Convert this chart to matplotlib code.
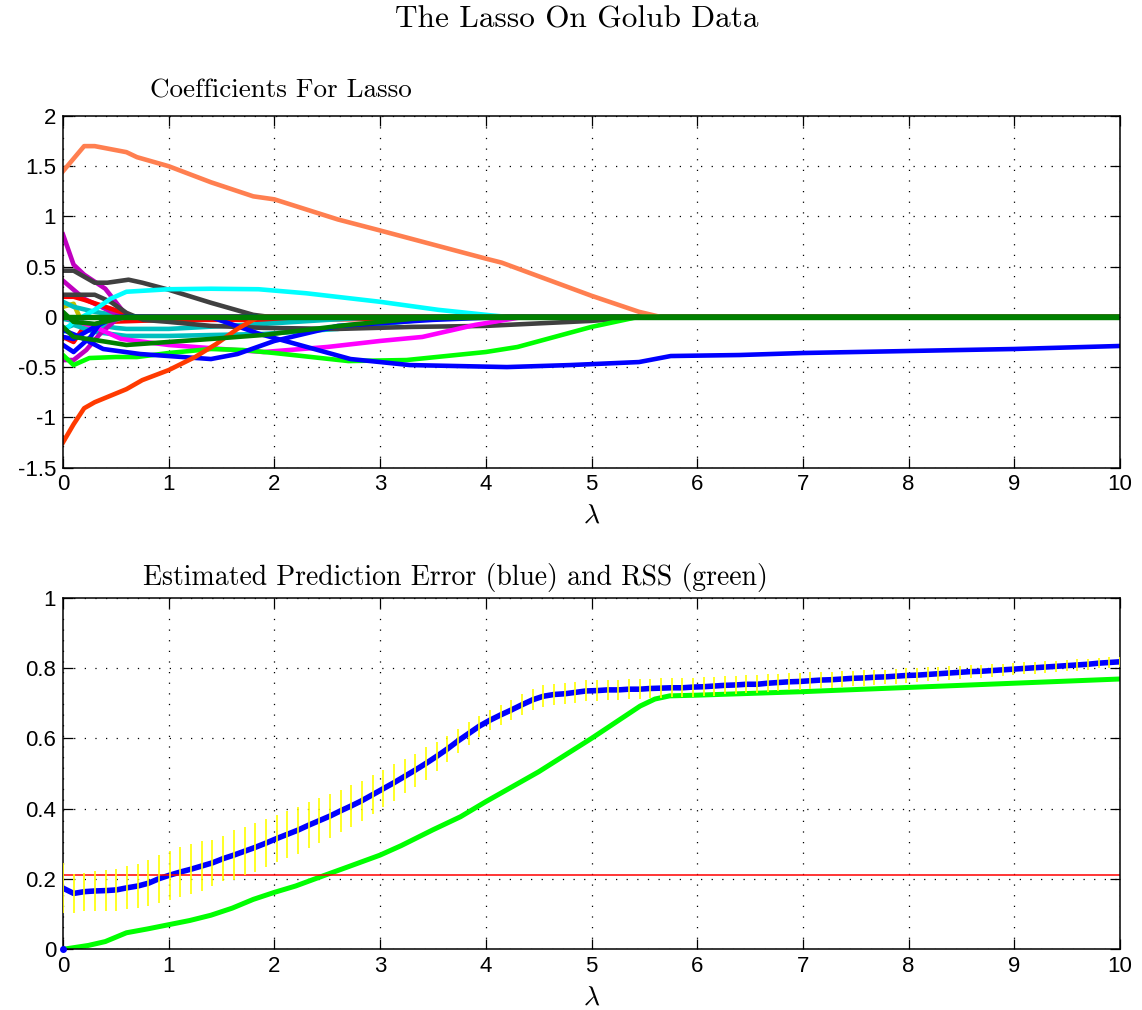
import numpy as np
import matplotlib
matplotlib.use("Agg")
import matplotlib.pyplot as plt

plt.rcParams['font.family'] = ['Liberation Sans', 'DejaVu Sans']
plt.rcParams['mathtext.fontset'] = 'cm'
plt.rcParams['axes.unicode_minus'] = False

# ---------------- data: lasso coefficient paths (lambda, coefficient) ----------------
path_coral_lam = [0, 0.2, 0.3, 0.5, 0.6, 0.7, 1.0, 1.4, 1.8, 2.0, 2.6, 3.0, 4.0, 4.15, 5.0, 5.45, 5.65, 10]
path_coral_val = [1.45, 1.70, 1.70, 1.66, 1.64, 1.59, 1.50, 1.34, 1.20, 1.17, 0.97, 0.86, 0.58, 0.54, 0.21, 0.05, 0.0, 0]

path_orange_lam = [0, 0.1, 0.2, 0.3, 0.6, 0.75, 1.0, 1.25, 1.45, 1.65, 1.85, 10]
path_orange_val = [-1.25, -1.07, -0.91, -0.85, -0.72, -0.63, -0.53, -0.40, -0.27, -0.12, 0.0, 0]

path_cyan_lam = [0, 0.1, 0.3, 0.45, 0.6, 1.0, 1.4, 1.85, 2.3, 3.0, 3.55, 4.05, 4.2, 10]
path_cyan_val = [-0.15, -0.05, 0.07, 0.18, 0.25, 0.275, 0.28, 0.275, 0.235, 0.15, 0.07, 0.015, 0.0, 0]

path_gray1_lam = [0, 0.1, 0.3, 0.42, 0.62, 0.75, 1.0, 1.4, 1.8, 1.95, 10]
path_gray1_val = [0.46, 0.46, 0.34, 0.34, 0.37, 0.34, 0.27, 0.14, 0.02, 0.0, 0]

path_gray2_lam = [0, 0.3, 0.45, 0.6, 0.76, 1.0, 1.4, 1.9, 2.6, 3.3, 4.0, 5.0, 5.5, 10]
path_gray2_val = [0.22, 0.22, 0.15, 0.04, -0.03, -0.05, -0.09, -0.11, -0.12, -0.10, -0.09, -0.04, 0.0, 0]

path_purple1_lam = [0, 0.1, 0.2, 0.4, 0.55, 0.62, 10]
path_purple1_val = [0.82, 0.52, 0.42, 0.28, 0.08, 0.0, 0]

path_purple2_lam = [0, 0.2, 0.4, 0.56, 10]
path_purple2_val = [0.36, 0.18, 0.08, 0.0, 0]

path_purple3_lam = [0, 0.1, 0.22, 0.35, 0.5, 0.6, 10]
path_purple3_val = [-0.43, -0.43, -0.33, -0.17, -0.03, 0.0, 0]

path_magenta_lam = [0, 0.3, 0.55, 1.0, 1.5, 1.9, 2.5, 3.0, 3.4, 3.9, 4.3, 4.4, 10]
path_magenta_val = [0.0, -0.10, -0.22, -0.28, -0.32, -0.35, -0.30, -0.24, -0.20, -0.08, -0.01, 0.0, 0]

path_green_lam = [0, 0.1, 0.25, 0.5, 0.7, 1.0, 1.4, 1.7, 2.0, 2.7, 3.25, 4.0, 4.3, 5.0, 5.4, 5.5, 10]
path_green_val = [-0.38, -0.48, -0.41, -0.40, -0.40, -0.36, -0.32, -0.33, -0.36, -0.44, -0.43, -0.35, -0.30, -0.10, -0.01, 0.0, 0]

path_blue1_lam = [0, 0.1, 0.26, 0.38, 0.6, 1.42, 1.86, 2.72, 3.28, 4.2, 4.8, 5.45, 5.75, 6.4, 7.0, 9.0, 10]
path_blue1_val = [-0.28, -0.35, -0.20, -0.02, 0.0, -0.01, -0.17, -0.42, -0.48, -0.50, -0.48, -0.45, -0.39, -0.38, -0.36, -0.32, -0.29]

path_blue2_lam = [0, 0.16, 0.38, 0.73, 1.4, 1.65, 2.0, 2.6, 3.5, 4.2, 10]
path_blue2_val = [-0.13, -0.20, -0.32, -0.37, -0.42, -0.37, -0.24, -0.09, -0.03, 0.0, 0]

path_blue3_lam = [0, 0.1, 0.3, 0.5, 10]
path_blue3_val = [-0.20, -0.22, -0.10, 0.0, 0]

path_teal1_lam = [0, 0.2, 0.5, 0.6, 1.0, 1.9, 2.5, 3.0, 10]
path_teal1_val = [-0.02, -0.06, -0.11, -0.12, -0.12, -0.07, -0.03, 0.0, 0]

path_teal2_lam = [0, 0.1, 0.3, 0.6, 1.0, 1.9, 2.6, 3.3, 3.6, 10]
path_teal2_val = [-0.12, -0.08, -0.15, -0.19, -0.19, -0.17, -0.12, -0.04, 0.0, 0]

path_teal3_lam = [0, 0.1, 0.3, 0.6, 10]
path_teal3_val = [0.15, 0.10, 0.05, 0.0, 0]

path_red1_lam = [0, 0.1, 0.2, 0.4, 0.6, 0.65, 10]
path_red1_val = [0.20, 0.20, 0.17, 0.10, 0.03, 0.0, 0]

path_red2_lam = [0, 0.1, 0.2, 0.4, 1.0, 2.0, 3.0, 3.6, 10]
path_red2_val = [-0.20, -0.25, -0.10, -0.05, -0.03, -0.03, -0.02, 0.0, 0]

path_olive_lam = [0, 0.1, 0.2, 0.3, 0.45, 0.6, 10]
path_olive_val = [0.10, 0.13, -0.10, -0.12, -0.05, 0.0, 0]

path_dkgreen2_lam = [0, 0.1, 0.3, 0.6, 1.0, 1.4, 1.9, 2.7, 3.3, 3.6, 10]
path_dkgreen2_val = [-0.10, -0.20, -0.23, -0.28, -0.25, -0.22, -0.18, -0.08, -0.02, 0.0, 0]

path_dkgreen3_lam = [0, 0.1, 0.3, 0.6, 10]
path_dkgreen3_val = [0.05, -0.05, -0.07, 0.0, 0]

path_dkgreen0_lam = [0, 10]
path_dkgreen0_val = [0.0, 0.0]

# ---------------- data: prediction error / RSS ----------------
cv_lambda = np.linspace(0, 10, 100)
cv_error = [0.174, 0.159, 0.164, 0.166, 0.167, 0.169, 0.175, 0.180, 0.188, 0.201,
            0.211, 0.220, 0.228, 0.237, 0.246, 0.258, 0.268, 0.279, 0.290, 0.302,
            0.315, 0.327, 0.339, 0.353, 0.366, 0.379, 0.394, 0.408, 0.423, 0.440,
            0.457, 0.474, 0.492, 0.510, 0.529, 0.549, 0.570, 0.593, 0.614, 0.635,
            0.652, 0.667, 0.681, 0.696, 0.710, 0.720, 0.725, 0.727, 0.731, 0.735,
            0.736, 0.738, 0.738, 0.740, 0.740, 0.742, 0.743, 0.744, 0.744, 0.746,
            0.747, 0.749, 0.751, 0.752, 0.754, 0.754, 0.757, 0.759, 0.761, 0.762,
            0.764, 0.766, 0.767, 0.769, 0.771, 0.772, 0.774, 0.775, 0.777, 0.779,
            0.780, 0.782, 0.784, 0.786, 0.788, 0.790, 0.791, 0.793, 0.795, 0.797,
            0.799, 0.801, 0.803, 0.805, 0.807, 0.809, 0.811, 0.814, 0.816, 0.818]
cv_se = [0.071, 0.055, 0.054, 0.058, 0.059, 0.059, 0.061, 0.063, 0.066, 0.068,
         0.070, 0.070, 0.071, 0.071, 0.066, 0.064, 0.070, 0.069, 0.070, 0.069,
         0.068, 0.067, 0.067, 0.065, 0.064, 0.062, 0.060, 0.060, 0.057, 0.055,
         0.053, 0.052, 0.048, 0.047, 0.046, 0.042, 0.038, 0.035, 0.032, 0.030,
         0.028, 0.028, 0.028, 0.029, 0.030, 0.031, 0.030, 0.030, 0.030, 0.030,
         0.029, 0.029, 0.029, 0.029, 0.028, 0.028, 0.028, 0.027, 0.027, 0.027,
         0.027, 0.027, 0.026, 0.026, 0.026, 0.026, 0.025, 0.025, 0.024, 0.024,
         0.024, 0.023, 0.023, 0.023, 0.022, 0.022, 0.022, 0.021, 0.021, 0.021,
         0.020, 0.020, 0.020, 0.019, 0.019, 0.019, 0.018, 0.018, 0.018, 0.017,
         0.017, 0.017, 0.017, 0.016, 0.016, 0.016, 0.016, 0.015, 0.015, 0.015]

rss_lambda = [0, 0.24, 0.4, 0.6, 0.8, 1.0, 1.2, 1.4, 1.6, 1.8, 2.0, 2.2, 2.48, 2.7, 3.0,
              3.2, 3.5, 3.76, 4.0, 4.5, 5.0, 5.25, 5.46, 5.6, 5.74, 6.0, 6.5, 7, 8, 9, 10]
rss_value = [0.0, 0.011, 0.022, 0.047, 0.058, 0.070, 0.082, 0.097, 0.117, 0.142, 0.162,
             0.180, 0.211, 0.235, 0.268, 0.295, 0.340, 0.377, 0.420, 0.505, 0.600, 0.650,
             0.692, 0.712, 0.721, 0.723, 0.728, 0.733, 0.745, 0.757, 0.769]

threshold = 0.211

main_title = "The Lasso On Golub Data"
top_title = "Coefficients For Lasso"
bottom_title = "Estimated Prediction Error (blue) and RSS (green)"
x_ticks = list(range(0, 11))
top_yticks = [-1.5, -1, -0.5, 0, 0.5, 1, 1.5, 2]
bottom_yticks = [0, 0.2, 0.4, 0.6, 0.8, 1]

# ---------------- figure ----------------
fig = plt.figure(figsize=(11.42, 10.10), dpi=100)
W, H = 1142, 1010

def axes_px(x0, y0, x1, y1):
    return fig.add_axes([x0 / W, 1 - y1 / H, (x1 - x0) / W, (y1 - y0) / H])

ax1 = axes_px(63, 116, 1120, 467.5)
ax2 = axes_px(63, 597.8, 1120, 949.3)

LW = 3.3
coef_paths = [
    (path_red2_lam, path_red2_val, '#FF0000', LW),
    (path_olive_lam, path_olive_val, '#BFBF00', LW),
    (path_teal3_lam, path_teal3_val, '#00BFBF', LW),
    (path_teal1_lam, path_teal1_val, '#00BFBF', LW),
    (path_teal2_lam, path_teal2_val, '#00BFBF', LW),
    (path_purple2_lam, path_purple2_val, '#BF00BF', LW),
    (path_purple3_lam, path_purple3_val, '#BF00BF', LW),
    (path_purple1_lam, path_purple1_val, '#BF00BF', LW),
    (path_red1_lam, path_red1_val, '#FF0000', LW),
    (path_gray2_lam, path_gray2_val, '#404040', LW),
    (path_gray1_lam, path_gray1_val, '#404040', LW),
    (path_magenta_lam, path_magenta_val, '#FF00FF', LW),
    (path_cyan_lam, path_cyan_val, '#00FFFF', LW),
    (path_green_lam, path_green_val, '#00FF00', LW),
    (path_blue3_lam, path_blue3_val, '#0000FF', LW),
    (path_blue2_lam, path_blue2_val, '#0000FF', LW),
    (path_blue1_lam, path_blue1_val, '#0000FF', LW),
    (path_orange_lam, path_orange_val, '#FF3A00', LW),
    (path_coral_lam, path_coral_val, '#FF7F50', LW),
    (path_dkgreen3_lam, path_dkgreen3_val, '#008000', LW),
    (path_dkgreen2_lam, path_dkgreen2_val, '#008000', LW),
    (path_dkgreen0_lam, path_dkgreen0_val, '#008000', 3.9),
]
for lam, val, col, lw in coef_paths:
    ax1.plot(lam, val, color=col, lw=lw, solid_joinstyle='round')

ax1.set_xlim(0, 10)
ax1.set_ylim(-1.5, 2)
ax1.set_yticks(top_yticks)
ax1.set_yticklabels(['-1.5', '-1', '-0.5', '0', '0.5', '1', '1.5', '2'])

# bottom panel
ax2.plot(cv_lambda, cv_error, color='#0000FF', lw=4.0, zorder=2)
ax2.errorbar(cv_lambda, cv_error, yerr=cv_se, fmt='none', ecolor='#FFFF00',
             elinewidth=1.2, capsize=0, zorder=3)
ax2.plot(rss_lambda, rss_value, color='#00FF00', lw=3.6, zorder=2)
ax2.plot(rss_lambda[0], rss_value[0], 'o', color='#0000FF', ms=4, zorder=4, clip_on=False)
ax2.axhline(threshold, color='#FF0000', lw=1.1, zorder=2)
ax2.set_xlim(0, 10)
ax2.set_ylim(0, 1)
ax2.set_yticks(bottom_yticks)
ax2.set_yticklabels(['0', '0.2', '0.4', '0.6', '0.8', '1'])

for ax in (ax1, ax2):
    ax.set_xticks(x_ticks)
    ax.set_xticklabels([str(t) for t in x_ticks])
    ax.grid(True, linestyle=(0, (1, 7.5)), color='k', linewidth=0.9)
    ax.set_axisbelow(True)
    ax.tick_params(direction='in', length=7, width=0.9, top=True, right=True,
                   labelsize=16, pad=5)
    for s in ax.spines.values():
        s.set_linewidth(1.1)
    ax.set_xlabel(r'$\lambda$', fontsize=20, labelpad=5)

fig.text(577 / W, 1 - 20 / H, main_title, family='cmr10', fontsize=22.5, ha='center', va='center')
fig.text(150 / W, 1 - 91 / H, top_title, family='cmr10', fontsize=19.5, ha='left', va='center')
fig.text(143 / W, 1 - 577 / H, bottom_title, family='cmr10', fontsize=20, ha='left', va='center')

fig.savefig('out.png', dpi=100)
